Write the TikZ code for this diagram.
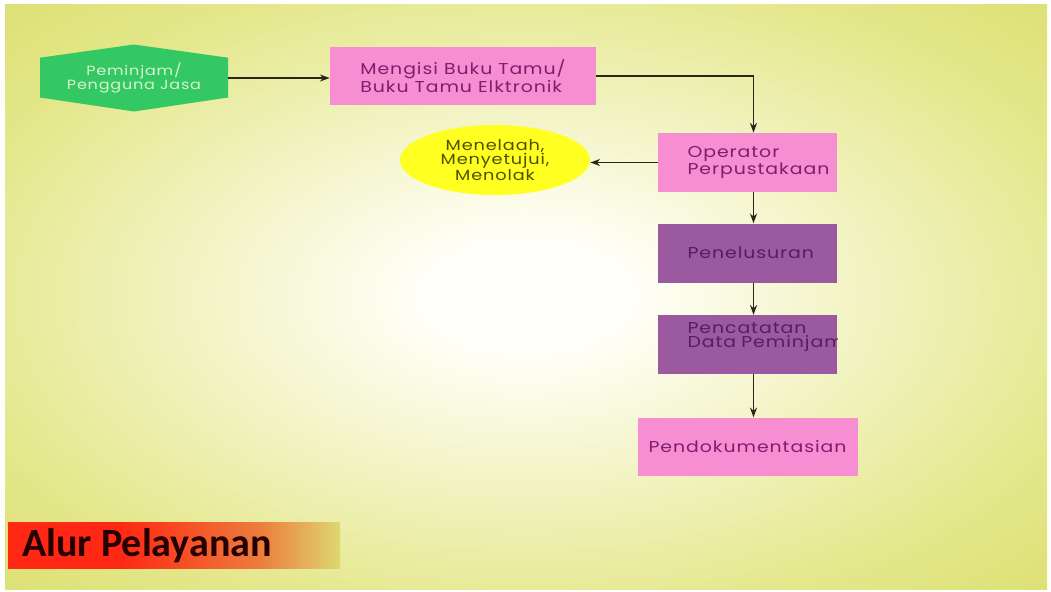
\documentclass[tikz,border=0pt]{standalone}
\usepackage{fontspec}
\usepackage{tikz}
\usetikzlibrary{arrows.meta,shapes,positioning}
\newfontfamily\boxfont[FakeStretch=1.2,LetterSpace=6]{Poppins}
\newfontfamily\titlefont{Carlito}
\newcommand{\boxtext}{\boxfont\fontsize{11.2}{10.4}\selectfont\hyphenpenalty=10000\relax}
\definecolor{bgcentre}{RGB}{255,255,248}
\definecolor{bgmid}{RGB}{228,231,138}
\definecolor{bgedge}{RGB}{210,214,82}
\definecolor{bgcorner}{RGB}{203,207,50}
\definecolor{alpink}{RGB}{248,142,210}
\definecolor{alpurple}{RGB}{155,90,160}
\definecolor{algreen}{RGB}{52,200,100}
\definecolor{alyellow}{RGB}{255,255,34}
\definecolor{pinktext}{RGB}{125,30,110}
\definecolor{purpletext}{RGB}{85,30,95}
\definecolor{greentext}{RGB}{215,245,205}
\definecolor{yellowtext}{RGB}{80,80,0}
\definecolor{arrowdark}{RGB}{40,40,25}
\definecolor{tred}{RGB}{255,40,20}
\definecolor{torange}{RGB}{236,125,60}
\definecolor{tfade}{RGB}{222,216,112}
\pgfdeclareradialshading{bgglow}{\pgfpoint{0bp}{0bp}}{color(0bp)=(bgcentre); color(5bp)=(bgcentre); color(28bp)=(bgmid); color(48bp)=(bgedge); color(71bp)=(bgcorner)}
\pgfdeclarehorizontalshading{titlebar}{100bp}{color(0bp)=(tred); color(42bp)=(tred); color(63bp)=(torange); color(75bp)=(tfade); color(100bp)=(tfade)}
\tikzstyle{arrow} = [line width=1.1pt, -{Stealth[length=7pt,width=5pt]}, color=arrowdark]
\tikzstyle{pinkbox} = [rectangle, fill=alpink, text=pinktext, font=\boxtext, align=left]
\tikzstyle{purplebox} = [rectangle, fill=alpurple, text=purpletext, font=\boxtext, align=left]
\tikzstyle{hexa} = [rectangle, minimum width=4.7cm, minimum height=1.675cm, text=greentext, font=\boxfont\fontsize{9.5}{10.5}\selectfont, align=center,
  path picture={\fill[algreen] (path picture bounding box.north) -- ([yshift=-0.33cm]path picture bounding box.north east) -- ([yshift=0.35cm]path picture bounding box.south east) -- (path picture bounding box.south) -- ([yshift=0.35cm]path picture bounding box.south west) -- ([yshift=-0.33cm]path picture bounding box.north west) -- cycle;}]
\begin{document}
\begin{tikzpicture}
% Background
\useasboundingbox (0,0) rectangle (26.275,-14.775);
\fill[white] (0,0) rectangle (26.275,-14.775);
\shade[shading=bgglow] (0.125,-0.1) rectangle (26.175,-14.725);

% Flow nodes
\node (user) [hexa] at (3.35,-1.95) {Peminjam/\\Pengguna Jasa};
\node (guestbook) [pinkbox, minimum width=6.65cm, minimum height=1.45cm] at (11.575,-1.9) {Mengisi Buku Tamu/\\Buku Tamu Elktronik};
\node (operator) [pinkbox, minimum width=4.475cm, minimum height=1.475cm, text width=3.0cm] at (18.6875,-4.0625) {Operator\\Perpustakaan};
\node (review) [ellipse, fill=alyellow, text=yellowtext, minimum width=4.75cm, minimum height=1.75cm, inner sep=0pt, align=center, font=\boxfont\fontsize{10.5}{10}\selectfont] at (12.375,-4.0) {Menelaah,\\Menyetujui,\\Menolak};
\node (search) [purplebox, below=0.775cm of operator, minimum width=4.475cm, minimum height=1.475cm, text width=3.0cm] {Penelusuran};
% text runs past the right edge, so it is cut off there
\begin{scope}
\clip ([yshift=-0.8cm]search.south west) rectangle ([yshift=-2.275cm]search.south east);
\node (record) [purplebox, below=0.8cm of search, minimum width=4.475cm, minimum height=1.475cm, text width=3.0cm, text depth=0.85cm] {Pencatatan\\Data~Peminjam};
\end{scope}
\node (archive) [pinkbox, below=1.075cm of record, minimum width=5.5cm, minimum height=1.45cm, align=center] {Pendokumentasian};

% Title bar
\shade[shading=titlebar] (0.2,-13.05) rectangle (8.5,-14.2);
\node (title) [anchor=base west, font=\titlefont\bfseries\fontsize{28.5}{30}\selectfont, text=black!85!red, inner sep=0pt] at (0.55,-13.92) {Alur Pelayanan};

% Connections
\draw[arrow] (user.east) -- (user.east -| guestbook.west);
\draw[arrow] (guestbook.east) -| ([xshift=0.15cm]operator.north);
\draw[arrow] (operator.west) -- (operator.west -| review.east);
\draw[arrow] ([xshift=0.15cm]operator.south) -- ([xshift=0.15cm]search.north);
\draw[arrow] ([xshift=0.15cm]search.south) -- ([xshift=0.15cm]record.north);
\draw[arrow] ([xshift=0.15cm]record.south) -- ([xshift=0.15cm]record.south |- archive.north);
\end{tikzpicture}
\end{document}
